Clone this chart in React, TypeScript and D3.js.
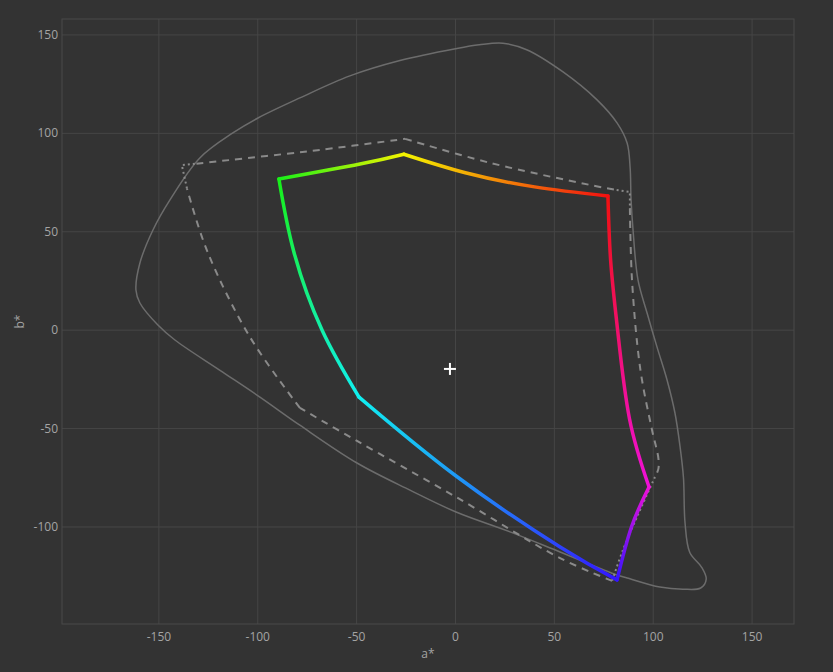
import React from "react";
import * as d3 from "d3";

type P = [number, number];

const xTicks = [-150, -100, -50, 0, 50, 100, 150];
const yTicks = [-100, -50, 0, 50, 100, 150];

// colored gamut edges (a*, b*)
const edgeGreenYellow: P[] = [[-89.3, 76.8], [-48.3, 84.4], [-26.1, 89.4]];
const edgeYellowRed: P[] = [[-26.1, 89.4], [5, 80.0], [40, 72.8], [77.1, 68.2]];
const edgeRedMagenta: P[] = [[77.1, 68.2], [78.5, 35], [82, 0], [88, -45], [97.9, -79.7]];
const edgeMagentaBlue: P[] = [[97.9, -79.7], [89.0, -100.0], [81.7, -126.9]];
const edgeBlueCyan: P[] = [[81.7, -126.9], [52.9, -110.2], [0.3, -74.1], [-48.8, -34.0]];
const edgeCyanGreen: P[] = [[-48.8, -34.0], [-67.5, 0.1], [-81.8, 40], [-89.3, 76.8]];

const cornerColors = ["#18f018", "#f4f400", "#f21010", "#f010d8", "#3414ff", "#10f0f0", "#18f018"];

// dashed reference gamut
const refDashTopLeft: P[] = [[-131.0, 84.6], [-68.5, 91.6], [-25.5, 97.2]];
const refDashTopRight: P[] = [[-25.5, 97.2], [17.5, 85.0], [68.0, 73.8], [81.5, 71.2]];
const refDotTR: P[] = [[81.5, 71.2], [88.2, 70.2], [88.2, 62.0]];
const refDashRight: P[] = [[88.2, 62.0], [89.3, 25], [93.5, -20], [99.4, -50.7], [102.6, -65.0], [102.6, -70.5], [100.9, -74.6]];
const refDotBottom: P[] = [[100.9, -74.6], [91.8, -94.9], [84.7, -111.7], [79.2, -127.4]];
const refDashBottom: P[] = [[79.2, -127.4], [52.9, -115.8], [0.3, -84.8], [-49.8, -56.3], [-78.7, -39.5]];
const refDashLeft: P[] = [[-78.7, -39.5], [-104, -3.4], [-125.5, 40], [-135.8, 72.0]];
const refDotTL: P[] = [[-135.8, 72.0], [-138.4, 83.9], [-131.0, 84.6]];

// solid outer boundary
const locus: P[] = [
  [-161.6, 20.4], [-159.6, 34.1], [-153.0, 50.9], [-144.4, 66.2], [-129.3, 87.5], [-112.6, 100.2],
  [-99.9, 107.8], [-78.7, 118.0], [-53.4, 129.2], [-28.1, 137.0], [0.0, 143.0], [12.0, 145.0],
  [24.0, 145.8], [36.0, 142.5], [54.4, 131.2], [71.6, 117.0], [81.7, 105.3], [86.8, 95.1],
  [88.3, 82.9], [88.8, 66.2], [89.8, 50.9], [92.3, 25.5], [96.9, 8.7], [101.9, -8.5],
  [107.0, -25.3], [111.0, -42.1], [113.6, -59.4], [115.3, -75.0], [116.1, -98.0], [118.5, -113.0],
  [124.5, -120.5], [126.8, -126.5], [124.0, -131.0], [115.0, -131.6], [103.4, -130.5], [86.8, -125.9],
  [81.7, -124.4], [52.9, -112.7], [27.6, -102.5], [0.3, -92.4], [-23.0, -81.3], [-49.8, -67.5],
  [-78.7, -48.3], [-98.9, -34.0], [-119.1, -20.4], [-141.9, -5.0], [-150.5, 2.6], [-159.6, 13.8],
];

const whitePoint: P = [-2.8, -19.7];

const W = 833;
const H = 672;
const L = 62, R = 794, T = 19, B = 624;

export default function App() {
  const x = d3.scaleLinear().domain([-199, 171.2]).range([L, R]);
  const y = d3.scaleLinear().domain([158.1, -149.3]).range([T, B]);

  const lineSmooth = d3.line<P>().x((d) => x(d[0])).y((d) => y(d[1])).curve(d3.curveCatmullRom.alpha(0.5));
  const lineNatural = d3.line<P>().x((d) => x(d[0])).y((d) => y(d[1])).curve(d3.curveNatural);
  const lineStraight = d3.line<P>().x((d) => x(d[0])).y((d) => y(d[1]));
  const lineClosed = d3.line<P>().x((d) => x(d[0])).y((d) => y(d[1])).curve(d3.curveCatmullRomClosed.alpha(0.5));

  const edges = [edgeGreenYellow, edgeYellowRed, edgeRedMagenta, edgeMagentaBlue, edgeBlueCyan, edgeCyanGreen];
  const gridColor = "#464646";
  const textColor = "#a4a4a4";
  const font = "'Open Sans', 'Noto Sans', sans-serif";

  const dashStyle = { stroke: "#8a8a8a", strokeWidth: 2, fill: "none", strokeDasharray: "7 6" };
  const dotStyle = { stroke: "#8a8a8a", strokeWidth: 2, fill: "none", strokeDasharray: "2 3" };

  const [wx, wy] = [x(whitePoint[0]), y(whitePoint[1])];

  return (
    <div style={{ position: "absolute", left: 0, top: 0 }}>
      <svg width={W} height={H} style={{ display: "block", background: "#333333" }}>
        <defs>
          {edges.map((e, i) => {
            const a = e[0];
            const b = e[e.length - 1];
            return (
              <linearGradient
                key={i}
                id={`g${i}`}
                gradientUnits="userSpaceOnUse"
                x1={x(a[0])}
                y1={y(a[1])}
                x2={x(b[0])}
                y2={y(b[1])}
              >
                <stop offset="0" stopColor={cornerColors[i]} />
                <stop offset="1" stopColor={cornerColors[i + 1]} />
              </linearGradient>
            );
          })}
        </defs>
        <rect x={0} y={0} width={W} height={H} fill="#333333" />
        {xTicks.map((t) => (
          <line key={`gx${t}`} x1={x(t)} x2={x(t)} y1={T} y2={B} stroke={gridColor} strokeWidth={1} />
        ))}
        {yTicks.map((t) => (
          <line key={`gy${t}`} x1={L} x2={R} y1={y(t)} y2={y(t)} stroke={gridColor} strokeWidth={1} />
        ))}
        <rect x={L} y={T} width={R - L} height={B - T} fill="none" stroke="#4a4a4a" strokeWidth={1} />

        {xTicks.map((t) => (
          <text key={`tx${t}`} x={x(t)} y={B + 17} textAnchor="middle" fill={textColor} fontSize={12} fontFamily={font}>
            {t}
          </text>
        ))}
        {yTicks.map((t) => (
          <text key={`ty${t}`} x={L - 4} y={y(t) + 4} textAnchor="end" fill={textColor} fontSize={12} fontFamily={font}>
            {t}
          </text>
        ))}
        <text x={(L + R) / 2} y={658} textAnchor="middle" fill={textColor} fontSize={12} fontFamily={font}>
          a*
        </text>
        <text
          transform={`translate(24, ${(T + B) / 2}) rotate(-90)`}
          textAnchor="middle"
          fill={textColor}
          fontSize={12}
          fontFamily={font}
        >
          b*
        </text>

        <path d={lineClosed(locus) || ""} fill="none" stroke="#6c6c6c" strokeWidth={1.5} />

        <path d={lineSmooth(refDashTopLeft) || ""} style={dashStyle} />
        <path d={lineSmooth(refDashTopRight) || ""} style={dashStyle} />
        <path d={lineSmooth(refDashRight) || ""} style={dashStyle} />
        <path d={lineSmooth(refDashBottom) || ""} style={dashStyle} />
        <path d={lineSmooth(refDashLeft) || ""} style={dashStyle} />
        <path d={lineStraight(refDotTR) || ""} style={dotStyle} />
        <path d={lineSmooth(refDotBottom) || ""} style={dotStyle} />
        <path d={lineStraight(refDotTL) || ""} style={dotStyle} />

        {edges.map((e, i) => (
          <path
            key={`e${i}`}
            d={lineNatural(e) || ""}
            fill="none"
            stroke={`url(#g${i})`}
            strokeWidth={3.5}
            strokeLinecap="round"
            strokeLinejoin="round"
          />
        ))}

        <line x1={wx - 6} x2={wx + 6} y1={wy} y2={wy} stroke="#ffffff" strokeWidth={2} />
        <line x1={wx} x2={wx} y1={wy - 6} y2={wy + 6} stroke="#ffffff" strokeWidth={2} />
      </svg>
    </div>
  );
}
